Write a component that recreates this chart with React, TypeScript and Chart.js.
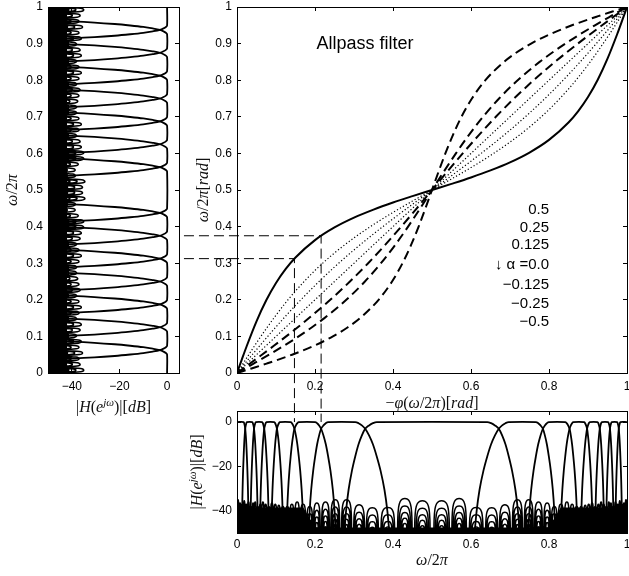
import React, { useEffect, useRef } from 'react';
import { Chart, registerables } from 'chart.js';

Chart.register(...registerables);

// ======================= DATA =======================

// Main panel: warping curves  x = -phi(w/2pi), y = w/2pi  for positive alpha
const warpX = [0, 0.0125, 0.025, 0.05, 0.075, 0.1, 0.125, 0.15, 0.2, 0.25, 0.3, 0.35, 0.4, 0.45, 0.5, 0.55, 0.6, 0.65, 0.7, 0.75, 0.8, 0.85, 0.875, 0.9, 0.925, 0.95, 0.975, 0.9875, 1];
const warpY050 = [0, 0.0373, 0.0738, 0.1412, 0.1987, 0.2459, 0.2843, 0.3156, 0.3631, 0.3976, 0.4244, 0.4464, 0.4657, 0.4832, 0.5, 0.5168, 0.5343, 0.5536, 0.5756, 0.6024, 0.6369, 0.6844, 0.7157, 0.7541, 0.8013, 0.8588, 0.9262, 0.9627, 1];
const warpY025 = [0, 0.0208, 0.0415, 0.0822, 0.1212, 0.158, 0.1923, 0.2241, 0.2803, 0.328, 0.3691, 0.4056, 0.4387, 0.4698, 0.5, 0.5302, 0.5613, 0.5944, 0.6309, 0.672, 0.7197, 0.7759, 0.8077, 0.842, 0.8788, 0.9178, 0.9585, 0.9792, 1];
const warpY0125 = [0, 0.0161, 0.0321, 0.0639, 0.0953, 0.126, 0.1558, 0.1846, 0.2392, 0.2896, 0.3363, 0.3799, 0.4212, 0.461, 0.5, 0.539, 0.5788, 0.6201, 0.6637, 0.7104, 0.7608, 0.8154, 0.8442, 0.874, 0.9047, 0.9361, 0.9679, 0.9839, 1];
// (negative alpha curves are the mirror images: same points with x and y exchanged)

const alphaLabels = ['0.5', '0.25', '0.125', '\u2193 \u03b1 =0.0', '\u22120.125', '\u22120.25', '\u22120.5'];
const alphaLabelX = 0.8;
const alphaLabelY = [0.445, 0.397, 0.35, 0.295, 0.24, 0.19, 0.14];
const panelTitle = 'Allpass filter';
const panelTitleX = 0.204;
const panelTitleY = 0.899;

// guide lines (channel edges 5/16 and 6/16 and their warped positions)
const guideLevels = [0.3125, 0.375];
const guideWarped = [0.1473, 0.2157];
const guideStartX = -0.136;
const guideEndY = -0.134;

// Filter bank: channel edges (unwarped = left panel, warped = bottom panel)
const leftEdges = [0.0625, 0.125, 0.1875, 0.25, 0.3125, 0.375, 0.4375, 0.5625, 0.625, 0.6875, 0.75, 0.8125, 0.875, 0.9375];
const bottomEdges = [0.0211, 0.0437, 0.0698, 0.1024, 0.1473, 0.2157, 0.3287, 0.6713, 0.7843, 0.8527, 0.8976, 0.9302, 0.9563, 0.9789];
const bottomStretchBelow = [0.3415, 0.375, 0.4438, 0.5713, 0.8099, 1.274, 2.13, 2.47, 1.5003, 0.9259, 0.6317, 0.4765, 0.3924, 0.3492];
const bottomStretchAbove = [0.3492, 0.3924, 0.4765, 0.6317, 0.9259, 1.5003, 2.47, 2.13, 1.274, 0.8099, 0.5713, 0.4438, 0.375, 0.3415];
const leftStretch = [1, 1, 1, 1, 1, 1, 1, 1, 1, 1, 1, 1, 1, 1];

// main-lobe flank profile: distance outward from a channel edge vs level in dB
const flankOffset = [-0.012, -0.008, -0.004, 0, 0.004, 0.008, 0.012, 0.016, 0.02, 0.023, 0.0255];
const flankDb = [0, -0.5, -1.5, -3, -6, -10, -15.5, -22, -30.5, -40, -52];

// sidelobes
const sideCentersLeft = [
  0.0078, 0.0234, 0.0391, 0.0547, 0.0703, 0.0859, 0.1016, 0.1172, 0.1328, 0.1484, 0.1641, 0.1797, 0.1953, 0.2109, 0.2266, 0.2422,
  0.2578, 0.2734, 0.2891, 0.3047, 0.3203, 0.3359, 0.3516, 0.3672, 0.3828, 0.3984, 0.4141, 0.4297, 0.4453, 0.4609, 0.4766, 0.4922,
  0.5078, 0.5234, 0.5391, 0.5547, 0.5703, 0.5859, 0.6016, 0.6172, 0.6328, 0.6484, 0.6641, 0.6797, 0.6953, 0.7109, 0.7266, 0.7422,
  0.7578, 0.7734, 0.7891, 0.8047, 0.8203, 0.8359, 0.8516, 0.8672, 0.8828, 0.8984, 0.9141, 0.9297, 0.9453, 0.9609, 0.9766, 0.9922,
];
const sideCentersBottom = [
  0.0026, 0.0079, 0.0131, 0.0185, 0.0238, 0.0295, 0.0353, 0.0412, 0.0467, 0.0531, 0.0597, 0.0664, 0.0735, 0.0813, 0.0895, 0.0982,
  0.1072, 0.1176, 0.129, 0.1407, 0.1542, 0.1695, 0.1864, 0.2047, 0.2269, 0.252, 0.281, 0.3131, 0.347, 0.3867, 0.4304, 0.4753,
  0.5247, 0.5696, 0.6133, 0.653, 0.6869, 0.719, 0.748, 0.7731, 0.7953, 0.8136, 0.8305, 0.8458, 0.8593, 0.871, 0.8824, 0.8928,
  0.9018, 0.9105, 0.9187, 0.9265, 0.9336, 0.9403, 0.9469, 0.9533, 0.9588, 0.9647, 0.9705, 0.9762, 0.9815, 0.9869, 0.9921, 0.9974,
];
const sidePeakDb = [
  -35, -36.5, -37, -35.5, -37, -36, -38, -36.5, -36, -38, -37, -36, -37, -38, -36.5, -37,
  -37.5, -38, -38, -37, -36, -37, -38, -36.5, -36, -35, -35, -37.3, -38.6, -38.5, -34.5, -35.5,
  -35.5, -34.5, -38.5, -38.6, -37.3, -35, -35, -36, -36.5, -38, -37, -36, -37, -38, -38, -37.5,
  -37, -36.5, -38, -37, -36, -37, -38, -36, -36.5, -38, -36, -37, -35.5, -37, -36.5, -35,
];
const sideHalfWidthLeft = 0.0078;
const nestDrop = [0, 3.3, 6.3, 8.8, 11.2];
const nestWidth = [0.85, 0.68, 0.52, 0.38, 0.25];
const archX = [-1, -0.96, -0.85, -0.65, -0.35, 0, 0.35, 0.65, 0.85, 0.96, 1];
const archY = [0, 0.5, 0.78, 0.92, 0.985, 1, 0.985, 0.92, 0.78, 0.5, 0];
const archBaseDb = -52;
// solid black floor of the dense sidelobes
const leftFloorDb = -42;
const bottomFloorX = [0, 0.17, 0.2, 0.8, 0.83, 1];
const bottomFloorDb = [-38.5, -38.5, -47.5, -47.5, -38.5, -38.5];

// ticks
const unitXTicks = [0, 0.2, 0.4, 0.6, 0.8, 1];
const unitXLabels = ['0', '0.2', '0.4', '0.6', '0.8', '1'];
const unitYTicks = [0, 0.1, 0.2, 0.3, 0.4, 0.5, 0.6, 0.7, 0.8, 0.9, 1];
const unitYLabels = ['0', '0.1', '0.2', '0.3', '0.4', '0.5', '0.6', '0.7', '0.8', '0.9', '1'];
const dbTicks = [-40, -20, 0];
const dbLabels = ['\u221240', '\u221220', '0'];
const dbMin = -50;
const dbMax = 5;

// ======================= LAYOUT / STYLE =======================
const W = 629;
const H = 576;
const SANS = "'Liberation Sans', Arial, Helvetica, sans-serif";
const SERIF = "'Liberation Serif', 'Times New Roman', serif";

type Seg = { t: string; it?: boolean; sup?: boolean };
const T_OMEGA: Seg[] = [{ t: '\u03c9', it: true }, { t: '/2' }, { t: '\u03c0', it: true }];
const T_OMEGA_RAD: Seg[] = [...T_OMEGA, { t: '[' }, { t: 'rad', it: true }, { t: ']' }];
const T_PHI: Seg[] = [{ t: '\u2212' }, { t: '\u03c6', it: true }, { t: '(' }, ...T_OMEGA, { t: ')[' }, { t: 'rad', it: true }, { t: ']' }];
const T_MAG: Seg[] = [{ t: '|' }, { t: 'H', it: true }, { t: '(' }, { t: 'e', it: true }, { t: 'j\u03c9', it: true, sup: true }, { t: ')|[' }, { t: 'dB', it: true }, { t: ']' }];

function drawRich(ctx: CanvasRenderingContext2D, segs: Seg[], cx: number, cy: number, rot: number, size: number) {
  ctx.save();
  ctx.translate(cx, cy);
  if (rot) ctx.rotate(rot);
  const fontFor = (s: Seg) => `${s.it ? 'italic ' : ''}${s.sup ? Math.round(size * 0.7) : size}px ${SERIF}`;
  let total = 0;
  const widths = segs.map((s) => {
    ctx.font = fontFor(s);
    const w = ctx.measureText(s.t).width;
    total += w;
    return w;
  });
  let x = -total / 2;
  ctx.textAlign = 'left';
  ctx.textBaseline = 'alphabetic';
  ctx.fillStyle = '#111';
  const base = size * 0.33;
  segs.forEach((s, i) => {
    ctx.font = fontFor(s);
    ctx.fillText(s.t, x, base - (s.sup ? size * 0.42 : 0));
    x += widths[i];
  });
  ctx.restore();
}

type Lab = { segs: Seg[]; side: 'bottom' | 'left'; offset: number };
function textPlugin(labels: Lab[], extra?: (chart: any) => void) {
  return {
    id: 'panelText',
    afterDraw(chart: any) {
      const { ctx, chartArea: a } = chart;
      labels.forEach((l) => {
        if (l.side === 'bottom') drawRich(ctx, l.segs, (a.left + a.right) / 2, a.bottom + l.offset, 0, 16);
        else drawRich(ctx, l.segs, a.left - l.offset, (a.top + a.bottom) / 2, -Math.PI / 2, 16);
      });
      if (extra) extra(chart);
    },
  };
}

function axis(position: string, min: number, max: number, ticks: number[], labels: string[] | null, size: number, pad: number) {
  const horizontal = position === 'top' || position === 'bottom';
  return {
    type: 'linear',
    position,
    min,
    max,
    afterBuildTicks: (s: any) => {
      s.ticks = ticks.map((v) => ({ value: v }));
    },
    afterFit: (s: any) => {
      if (horizontal) s.height = size;
      else s.width = size;
      s.paddingLeft = 0;
      s.paddingRight = 0;
      s.paddingTop = 0;
      s.paddingBottom = 0;
    },
    grid: { display: true, drawOnChartArea: false, drawTicks: true, tickLength: -4, color: '#000', lineWidth: 1 },
    border: { display: true, color: '#000', width: 1 },
    ticks: labels
      ? {
          display: true,
          padding: pad,
          color: '#000',
          font: { family: SANS, size: 12 },
          autoSkip: false,
          maxRotation: 0,
          minRotation: 0,
          callback: (_v: any, i: number) => labels[i],
        }
      : { display: false },
  };
}

// ---- builders (only place read values; no generated data) ----
function channelCurve(edges: number[], below: number[], above: number[], ch: number): [number, number][] {
  const pts: [number, number][] = [];
  if (ch === 0) pts.push([0, 0]);
  else {
    const k = ch - 1;
    const e = edges[k];
    for (let j = flankOffset.length - 1; j >= 0; j--) {
      const d = flankOffset[j];
      pts.push([e - d * (d > 0 ? below[k] : above[k]), flankDb[j]]);
    }
  }
  if (ch === edges.length) pts.push([1, 0]);
  else {
    const k = ch;
    const e = edges[k];
    for (let j = 0; j < flankOffset.length; j++) {
      const d = flankOffset[j];
      pts.push([e + d * (d > 0 ? above[k] : below[k]), flankDb[j]]);
    }
  }
  return pts;
}

function sidelobes(centers: number[], halfWidths: number[], peaks: number[]): ([number, number] | null)[] {
  const pts: ([number, number] | null)[] = [];
  centers.forEach((c, i) => {
    nestDrop.forEach((drop, n) => {
      const w = halfWidths[i] * nestWidth[n];
      const top = peaks[i] - drop;
      archX.forEach((ax, j) => pts.push([c + w * ax, archBaseDb + (top - archBaseDb) * archY[j]]));
      pts.push(null);
    });
  });
  return pts;
}

const lineBase = { showLine: true, pointRadius: 0, pointHoverRadius: 0, borderColor: '#000', backgroundColor: '#000', fill: false };

function baseOptions(padding: any, scales: any) {
  return {
    responsive: false,
    animation: false,
    devicePixelRatio: 1,
    events: [],
    layout: { padding },
    plugins: { legend: { display: false }, tooltip: { enabled: false } },
    scales,
  };
}

function leftConfig(): any {
  const datasets: any[] = [];
  datasets.push({
    ...lineBase,
    borderWidth: 0,
    fill: 'shape',
    data: [
      { x: archBaseDb, y: 0 },
      { x: leftFloorDb, y: 0 },
      { x: leftFloorDb, y: 1 },
      { x: archBaseDb, y: 1 },
      { x: archBaseDb, y: 0 },
    ],
  });
  const hw = sideCentersLeft.map(() => sideHalfWidthLeft);
  datasets.push({
    ...lineBase,
    borderWidth: 1.5,
    tension: 0.35,
    data: sidelobes(sideCentersLeft, hw, sidePeakDb).map((p) => (p ? { x: p[1], y: p[0] } : { x: 0, y: null })),
  });
  for (let ch = 0; ch <= leftEdges.length; ch++) {
    datasets.push({
      ...lineBase,
      borderWidth: 1.8,
      tension: 0.35,
      data: channelCurve(leftEdges, leftStretch, leftStretch, ch).map(([f, db]) => ({ x: db, y: f })),
    });
  }
  return {
    type: 'scatter',
    data: { datasets },
    options: baseOptions(
      { left: 0, right: W - 179, top: 7, bottom: H - 373 - 30 },
      {
        x: axis('bottom', dbMin, dbMax, dbTicks, dbLabels, 30, 10.8),
        x2: axis('top', dbMin, dbMax, dbTicks, null, 0, 0),
        y: axis('left', 0, 1, unitYTicks, unitYLabels, 48, 9),
        y2: axis('right', 0, 1, unitYTicks, null, 0, 0),
      },
    ),
    plugins: [
      textPlugin([
        { segs: T_OMEGA, side: 'left', offset: 36 },
        { segs: T_MAG, side: 'bottom', offset: 34 },
      ]),
    ],
  };
}

function bottomConfig(): any {
  const datasets: any[] = [];
  const floor = bottomFloorX.map((x, i) => ({ x, y: bottomFloorDb[i] }));
  datasets.push({
    ...lineBase,
    borderWidth: 0,
    fill: 'shape',
    data: [{ x: 0, y: archBaseDb }, ...floor, { x: 1, y: archBaseDb }, { x: 0, y: archBaseDb }],
  });
  const n = sideCentersBottom.length;
  const hw = sideCentersBottom.map((c, i) => {
    const prev = i > 0 ? sideCentersBottom[i - 1] : -c;
    const next = i < n - 1 ? sideCentersBottom[i + 1] : 2 - c;
    return (next - prev) / 4;
  });
  datasets.push({
    ...lineBase,
    borderWidth: 1.5,
    tension: 0.35,
    data: sidelobes(sideCentersBottom, hw, sidePeakDb).map((p) => (p ? { x: p[0], y: p[1] } : { x: 0, y: null })),
  });
  for (let ch = 0; ch <= bottomEdges.length; ch++) {
    datasets.push({
      ...lineBase,
      borderWidth: 1.8,
      tension: 0.35,
      data: channelCurve(bottomEdges, bottomStretchBelow, bottomStretchAbove, ch).map(([f, db]) => ({ x: f, y: db })),
    });
  }
  return {
    type: 'scatter',
    data: { datasets },
    options: baseOptions(
      { left: 237 - 40, right: W - 627, top: 411, bottom: H - 533 - 30 },
      {
        x: axis('bottom', 0, 1, unitXTicks, unitXLabels, 30, 8.8),
        x2: axis('top', 0, 1, unitXTicks, null, 0, 0),
        y: axis('left', dbMin, dbMax, dbTicks, dbLabels, 40, 9),
        y2: axis('right', dbMin, dbMax, dbTicks, null, 0, 0),
      },
    ),
    plugins: [
      textPlugin([
        { segs: T_MAG, side: 'left', offset: 40 },
        { segs: T_OMEGA, side: 'bottom', offset: 27 },
      ]),
    ],
  };
}

function mainConfig(): any {
  const curve = (ys: number[]) => warpX.map((x, i) => ({ x, y: ys[i] }));
  const mirror = (ys: number[]) => warpX.map((x, i) => ({ x: ys[i], y: x }));
  const solid = { ...lineBase, borderWidth: 2, cubicInterpolationMode: 'monotone' };
  const dotted = { ...lineBase, borderWidth: 1.2, borderDash: [1.2, 2.2], cubicInterpolationMode: 'monotone' };
  const dashed = { ...lineBase, borderWidth: 2, borderDash: [9, 5], cubicInterpolationMode: 'monotone' };
  const datasets: any[] = [
    { ...solid, data: curve(warpY050) },
    { ...dotted, data: curve(warpY025) },
    { ...dotted, data: curve(warpY0125) },
    { ...dotted, data: curve(warpX) },
    { ...dashed, data: mirror(warpY0125) },
    { ...dashed, data: mirror(warpY025) },
    { ...dashed, data: mirror(warpY050) },
  ];
  guideLevels.forEach((lvl, i) => {
    datasets.push({
      ...lineBase,
      borderWidth: 1,
      borderDash: [10, 5],
      clip: false,
      data: [
        { x: guideStartX, y: lvl },
        { x: guideWarped[i], y: lvl },
        { x: guideWarped[i], y: guideEndY },
      ],
    });
  });
  const extra = (chart: any) => {
    const { ctx } = chart;
    const xs = chart.scales.x;
    const ys = chart.scales.y;
    ctx.save();
    ctx.fillStyle = '#000';
    ctx.font = `18px ${SANS}`;
    ctx.textAlign = 'left';
    ctx.textBaseline = 'middle';
    ctx.fillText(panelTitle, xs.getPixelForValue(panelTitleX), ys.getPixelForValue(panelTitleY));
    ctx.font = `15px ${SANS}`;
    ctx.textAlign = 'right';
    alphaLabels.forEach((t, i) => ctx.fillText(t, xs.getPixelForValue(alphaLabelX), ys.getPixelForValue(alphaLabelY[i])));
    ctx.restore();
  };
  return {
    type: 'scatter',
    data: { datasets },
    options: baseOptions(
      { left: 237 - 40, right: W - 627, top: 7, bottom: H - 373 - 30 },
      {
        x: axis('bottom', 0, 1, unitXTicks, unitXLabels, 30, 10.8),
        x2: axis('top', 0, 1, unitXTicks, null, 0, 0),
        y: axis('left', 0, 1, unitYTicks, unitYLabels, 40, 9),
        y2: axis('right', 0, 1, unitYTicks, null, 0, 0),
      },
    ),
    plugins: [
      textPlugin(
        [
          { segs: T_OMEGA_RAD, side: 'left', offset: 34 },
          { segs: T_PHI, side: 'bottom', offset: 30 },
        ],
        extra,
      ),
    ],
  };
}

export default function App() {
  const leftRef = useRef<HTMLCanvasElement>(null);
  const bottomRef = useRef<HTMLCanvasElement>(null);
  const mainRef = useRef<HTMLCanvasElement>(null);

  useEffect(() => {
    const charts = [
      new Chart(leftRef.current as HTMLCanvasElement, leftConfig()),
      new Chart(bottomRef.current as HTMLCanvasElement, bottomConfig()),
      new Chart(mainRef.current as HTMLCanvasElement, mainConfig()),
    ];
    return () => charts.forEach((c) => c.destroy());
  }, []);

  const cs: React.CSSProperties = { position: 'absolute', left: 0, top: 0, width: W, height: H };
  return (
    <div style={{ position: 'absolute', left: 0, top: 0, width: W, height: H, background: '#fff', overflow: 'hidden' }}>
      <canvas ref={leftRef} width={W} height={H} style={cs} />
      <canvas ref={bottomRef} width={W} height={H} style={cs} />
      <canvas ref={mainRef} width={W} height={H} style={cs} />
    </div>
  );
}
